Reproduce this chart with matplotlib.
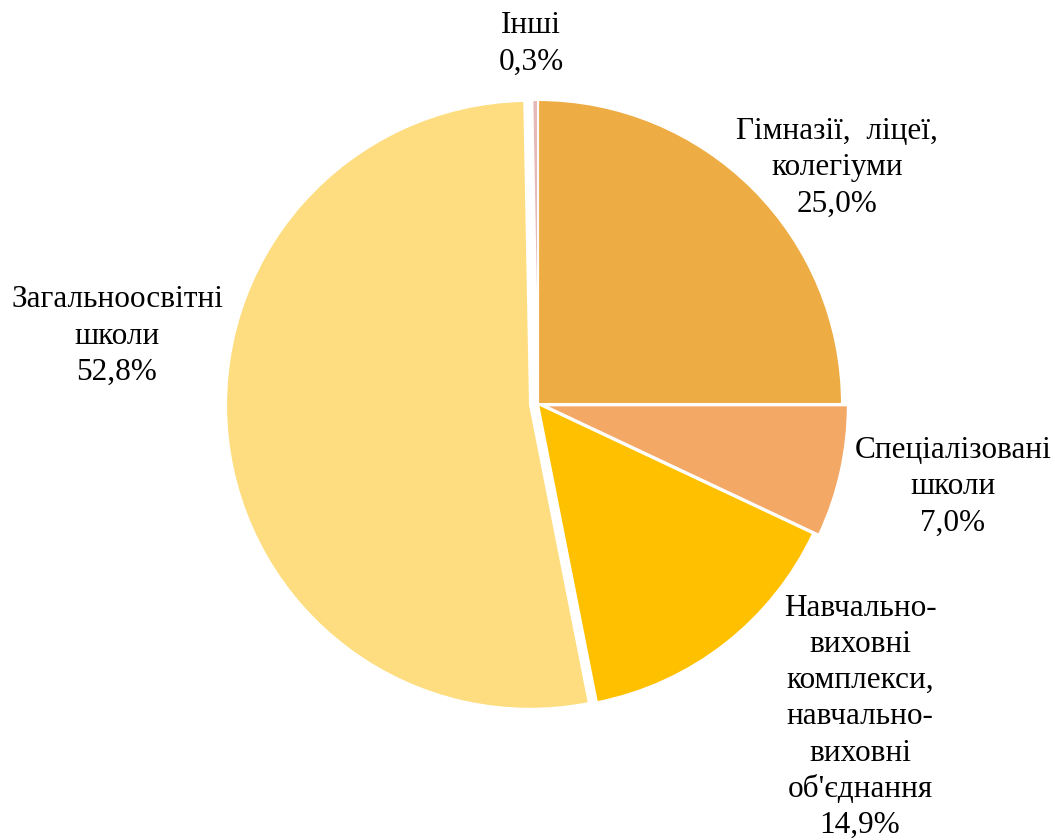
import matplotlib
matplotlib.use("Agg")
import matplotlib.pyplot as plt

categories = ["Гімназії,  ліцеї,\nколегіуми", "Спеціалізовані\nшколи",
              "Навчально-\nвиховні\nкомплекси,\nнавчально-\nвиховні\nоб'єднання",
              "Загальноосвітні\nшколи", "Інші"]
values = [25.0, 7.0, 14.9, 52.8, 0.3]
colors = ["#EEAC45", "#F4A866", "#FFC000", "#FEDD80", "#E6B8B7"]
explode = [0.0, 6.0, 0.0, 8.0, 0.0]
label_pos = [(837, 168), (953, 487), (860, 717), (117, 336), (531, 44)]

W, H = 1055, 840
fig = plt.figure(figsize=(W / 100, H / 100), dpi=100)
ax = fig.add_axes([0, 0, 1, 1])

cx, cy, r = 538, H - 404, 304
ax.pie(values, colors=colors, startangle=90, counterclock=False,
       explode=explode, center=(cx, cy), radius=r,
       wedgeprops=dict(edgecolor="white", linewidth=1.5), frame=True)
ax.set_xlim(0, W)
ax.set_ylim(0, H)
ax.set_aspect("equal")
ax.axis("off")

for cat, v, (x, y) in zip(categories, values, label_pos):
    txt = f"{cat}\n{v:.1f}%".replace(".", ",")
    ax.text(x, H - y, txt, ha="center", va="center", fontsize=22.5,
            family="Liberation Serif", linespacing=1.33, color="black")

fig.savefig("out.png", dpi=100)
